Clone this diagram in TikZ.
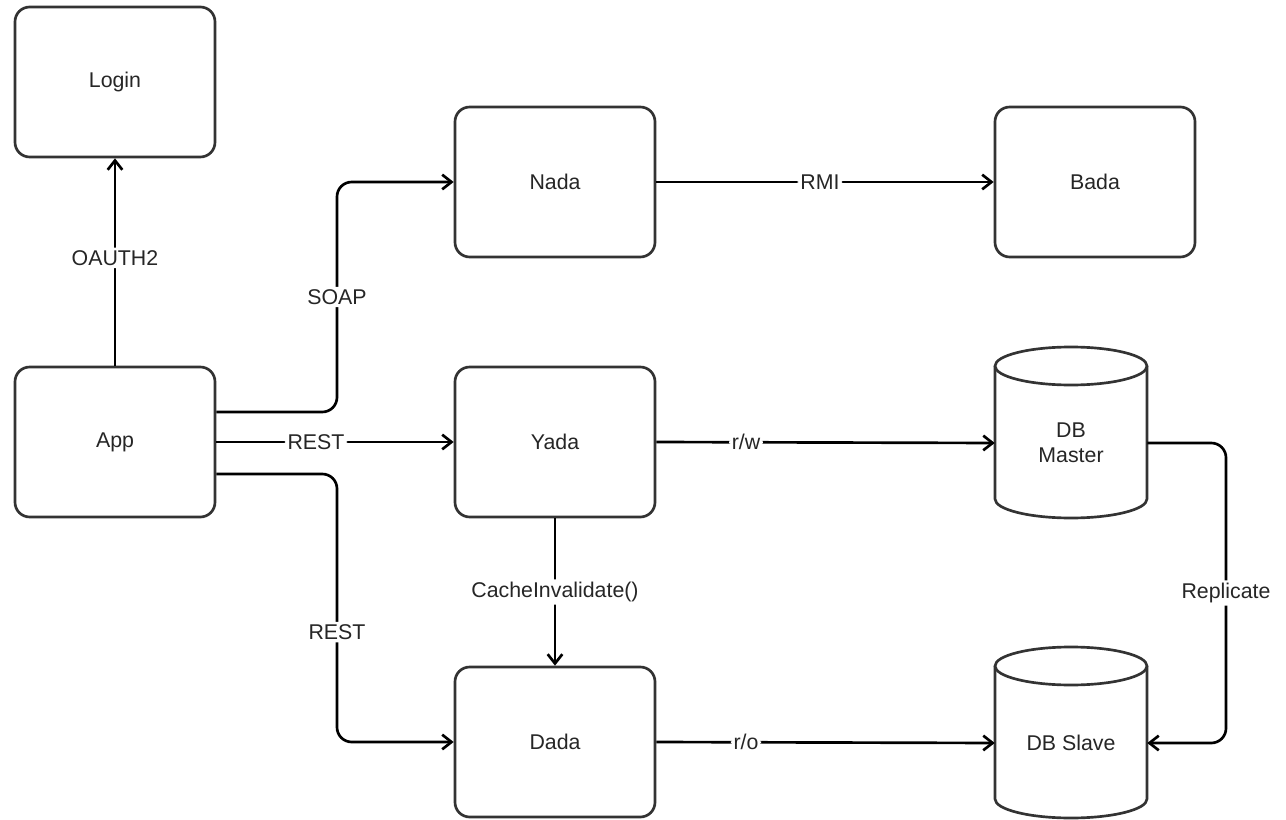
\documentclass[tikz,border=0pt]{standalone}
\usepackage{fontspec}
\setmainfont{Liberation Sans}
\usetikzlibrary{arrows.meta}
\begin{document}
\begin{tikzpicture}[x=0.75pt,y=-0.75pt,
  box/.style={draw=black!80,line width=2pt,rounded corners=11pt,fill=white,
    minimum width=150pt,minimum height=112.5pt,inner sep=0pt,
    font=\fontsize{16}{19}\selectfont,text=black!85},
  dbtext/.style={minimum width=114pt,inner sep=0pt,align=center,
    font=\fontsize{16}{19}\selectfont,text=black!85},
  dbshape/.style={draw=black!80,line width=2pt,fill=white},
  conn/.style={line width=2pt,black,rounded corners=11pt,
    -{Straight Barb[length=7pt,width=11pt,line width=2pt]}},
  lbl/.style={fill=white,inner sep=2pt,font=\fontsize{16}{19}\selectfont,text=black!85}]
\useasboundingbox (0,0) rectangle (1286,820);

\node[box] (login) at (115,82) {Login};
\node[box] (app) at (115,442) {App};
\node[box] (nada) at (555,182) {Nada};
\node[box] (bada) at (1095,182) {Bada};
\node[box] (yada) at (555,442) {Yada};
\node[box] (dada) at (555,742) {Dada};

% DB Master cylinder
\draw[dbshape] (995,366) -- (995,499) arc[start angle=180,end angle=360,x radius=57pt,y radius=14.25pt] -- (1147,366);
\draw[dbshape] (1071,366) ellipse[x radius=57pt,y radius=14.25pt];
\node[dbtext] (dbm) at (1071,443) {DB\\Master};
% DB Slave cylinder
\draw[dbshape] (995,666) -- (995,799) arc[start angle=180,end angle=360,x radius=57pt,y radius=14.25pt] -- (1147,666);
\draw[dbshape] (1071,666) ellipse[x radius=57pt,y radius=14.25pt];
\node[dbtext] (dbs) at (1071,743) {DB Slave};

\coordinate (soapA) at (337,412);
\coordinate (soapB) at (337,182);
\coordinate (restA) at (337,474);
\coordinate (restB) at (337,742);
\coordinate (repA) at (1226,443);
\coordinate (repB) at (1226,743);

\draw[conn] (app.north) -- node[lbl,pos=0.52]{OAUTH2} (login.south);
\draw[conn] ([yshift=22.5pt]app.east) -- (soapA) -- node[lbl]{SOAP} (soapB) -- (nada.west);
\draw[conn] (app.east) -- node[lbl,pos=0.42]{REST} (yada.west);
\draw[conn] ([yshift=-24pt]app.east) -- (restA) -- node[lbl,pos=0.59]{REST} (restB) -- (dada.west);
\draw[conn] (nada.east) -- node[lbl,pos=0.485]{RMI} (bada.west);
\draw[conn] (yada.east) -- node[lbl,pos=0.265]{r/w} (dbm.west);
\draw[conn] (yada.south) -- node[lbl]{CacheInvalidate()} (dada.north);
\draw[conn] (dada.east) -- node[lbl,pos=0.265]{r/o} (dbs.west);
\draw[conn] (dbm.east) -- (repA) -- node[lbl,pos=0.5]{Replicate} (repB) -- (dbs.east);
\end{tikzpicture}
\end{document}
